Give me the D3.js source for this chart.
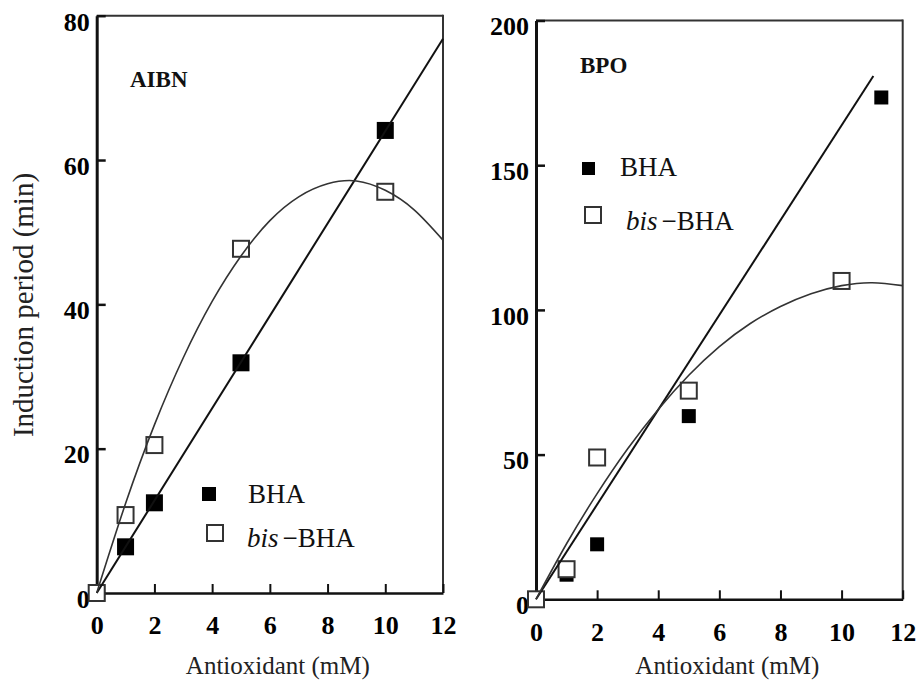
<!DOCTYPE html>
<html>
<head>
<meta charset="utf-8">
<script src="https://cdn.jsdelivr.net/npm/d3@7"></script>
<style>
body { margin: 0; background: #fff; }
svg { display: block; font-family: "Liberation Serif", "Times New Roman", serif; }
</style>
</head>
<body>
<svg id="chart" width="917" height="681"></svg>
<script>
// ---- data ----
var xTicks = [0, 2, 4, 6, 8, 10, 12];
var fitX = [0, 1, 2, 3, 4, 5, 6, 7, 8, 9, 10, 11, 12];

// AIBN panel
var aibnTicks = [0, 20, 40, 60, 80];
var aibnDose = [0, 1, 2, 5, 10];
var aibnBHA = [0, 6.4, 12.5, 31.9, 64.1];
var aibnBis = [0, 10.8, 20.5, 47.7, 55.6];
var aibnBHAFitX = [0, 12];
var aibnBHAFit = [0, 76.8];
var aibnBisFit = [0, 12.4, 23.3, 32.6, 40.4, 46.7, 51.6, 54.9, 56.7, 57.1, 55.8, 53.1, 48.9];

// BPO panel
var bpoTicks = [0, 50, 100, 150, 200];
var bpoDoseBHA = [0, 1, 2, 5, 11.3];
var bpoBHA = [0, 8.5, 19, 63.3, 173.4];
var bpoDoseBis = [0, 1, 2, 5, 10];
var bpoBis = [0, 10.4, 49, 72.1, 110];
var bpoBHAFitX = [0, 11.04];
var bpoBHAFit = [0, 180.8];
var bpoBisFit = [0, 19.2, 36.5, 52.0, 65.6, 77.4, 87.3, 95.2, 101.2, 105.6, 108.4, 109.4, 108.4];

var svg = d3.select('#chart');

function drawPanel(o) {
    var g = svg.append('g');
    var x = d3.scaleLinear().domain([0, 12]).range(o.xRange);
    var y = d3.scaleLinear().domain([0, o.yMax]).range(o.yRange);

    // top and right frame
    g.append('line').attr('x1', x(0)).attr('x2', x(12)).attr('y1', y(o.yMax)).attr('y2', y(o.yMax))
        .attr('stroke', '#333').attr('stroke-width', 2);
    g.append('line').attr('x1', x(12)).attr('x2', x(12)).attr('y1', y(o.yMax) - 1).attr('y2', y(0))
        .attr('stroke', '#333').attr('stroke-width', 2);

    // axes (ticks point inward)
    var xa = g.append('g').attr('transform', 'translate(0,' + y(0) + ')')
        .call(d3.axisBottom(x).tickValues(xTicks).tickSizeInner(-9).tickSizeOuter(0).tickPadding(23));
    xa.select('.domain').attr('stroke', '#111').attr('stroke-width', 2.5);
    xa.selectAll('.tick line').attr('stroke', '#111').attr('stroke-width', 2);
    xa.selectAll('.tick text').attr('font-family', '"Liberation Serif", serif').attr('font-size', 26)
        .attr('font-weight', 'bold').attr('fill', '#000');

    var ya = g.append('g').attr('transform', 'translate(' + x(0) + ',0)')
        .call(d3.axisLeft(y).tickValues(o.yTicks).tickSizeInner(-9).tickSizeOuter(0).tickPadding(7));
    ya.select('.domain').attr('stroke', '#111').attr('stroke-width', 3);
    ya.selectAll('.tick line').attr('stroke', '#111').attr('stroke-width', 2.5);
    ya.selectAll('.tick text').attr('font-family', '"Liberation Serif", serif').attr('font-size', 26)
        .attr('font-weight', 'bold').attr('fill', '#000').attr('dy', '0.55em');

    // axis title
    g.append('text').attr('x', (x(0) + x(12)) / 2 + 8).attr('y', 674)
        .attr('text-anchor', 'middle').attr('font-size', 25).attr('fill', '#222')
        .text('Antioxidant (mM)');

    // panel label
    g.append('text').attr('x', o.label[0]).attr('y', o.label[1])
        .attr('font-size', 23).attr('font-weight', 'bold').attr('fill', '#111').text(o.name);

    // filled markers (BHA)
    var fs = o.filledSize;
    g.selectAll('.bha').data(o.bhaX).join('rect').attr('class', 'bha')
        .attr('x', function (d) { return x(d) - fs / 2; })
        .attr('y', function (d, i) { return y(o.bha[i]) - fs / 2; })
        .attr('width', fs).attr('height', fs).attr('fill', '#000');

    // open markers (bis-BHA)
    var os = o.openSize;
    g.selectAll('.bis').data(o.bisX).join('rect').attr('class', 'bis')
        .attr('x', function (d) { return x(d) - os / 2; })
        .attr('y', function (d, i) { return y(o.bis[i]) - os / 2; })
        .attr('width', os).attr('height', os).attr('fill', '#fff')
        .attr('stroke', '#333').attr('stroke-width', 2);

    // fitted lines
    var line = d3.line().x(function (d) { return x(d[0]); }).y(function (d) { return y(d[1]); });
    g.append('path').datum(d3.zip(o.bhaFitX, o.bhaFit)).attr('d', line)
        .attr('fill', 'none').attr('stroke', '#111').attr('stroke-width', 2);
    g.append('path').datum(d3.zip(fitX, o.bisFit)).attr('d', line.curve(d3.curveNatural))
        .attr('fill', 'none').attr('stroke', '#333').attr('stroke-width', 1.6);

    // legend
    var lg = g.append('g');
    var L = o.legend;
    lg.append('rect').attr('x', L.fx).attr('y', L.fy).attr('width', L.fw).attr('height', L.fw).attr('fill', '#000');
    lg.append('rect').attr('x', L.ox).attr('y', L.oy).attr('width', L.ow).attr('height', L.ow)
        .attr('fill', '#fff').attr('stroke', '#333').attr('stroke-width', 2);
    lg.append('text').attr('x', L.tx).attr('y', L.ty1).attr('font-size', 27).attr('fill', '#111').text('BHA');
    var t2 = lg.append('text').attr('x', L.tx2).attr('y', L.ty2).attr('font-size', 27).attr('fill', '#111');
    t2.append('tspan').attr('font-style', 'italic').text('bis');
    t2.append('tspan').attr('dx', 4).text('\u2212BHA');
}

drawPanel({
    name: 'AIBN', label: [130, 87],
    xRange: [96.7, 443], yRange: [593, 15.7], yMax: 80, yTicks: aibnTicks,
    bhaX: aibnDose, bha: aibnBHA, bisX: aibnDose, bis: aibnBis,
    bhaFitX: aibnBHAFitX, bhaFit: aibnBHAFit, bisFit: aibnBisFit,
    filledSize: 17, openSize: 16,
    legend: { fx: 202, fy: 487, fw: 14, ox: 207, oy: 525, ow: 16, tx: 248, ty1: 503, tx2: 247, ty2: 547 }
});

drawPanel({
    name: 'BPO', label: [580, 73],
    xRange: [536, 902.7], yRange: [599.3, 20.5], yMax: 200, yTicks: bpoTicks,
    bhaX: bpoDoseBHA, bha: bpoBHA, bisX: bpoDoseBis, bis: bpoBis,
    bhaFitX: bpoBHAFitX, bhaFit: bpoBHAFit, bisFit: bpoBisFit,
    filledSize: 14, openSize: 16,
    legend: { fx: 582, fy: 162, fw: 13, ox: 585, oy: 207, ow: 16, tx: 620, ty1: 176, tx2: 626, ty2: 230 }
});

// shared y title
svg.append('text').attr('transform', 'translate(33,305) rotate(-90)')
    .attr('text-anchor', 'middle').attr('font-size', 29).attr('fill', '#222')
    .text('Induction period (min)');
</script>
</body>
</html>
